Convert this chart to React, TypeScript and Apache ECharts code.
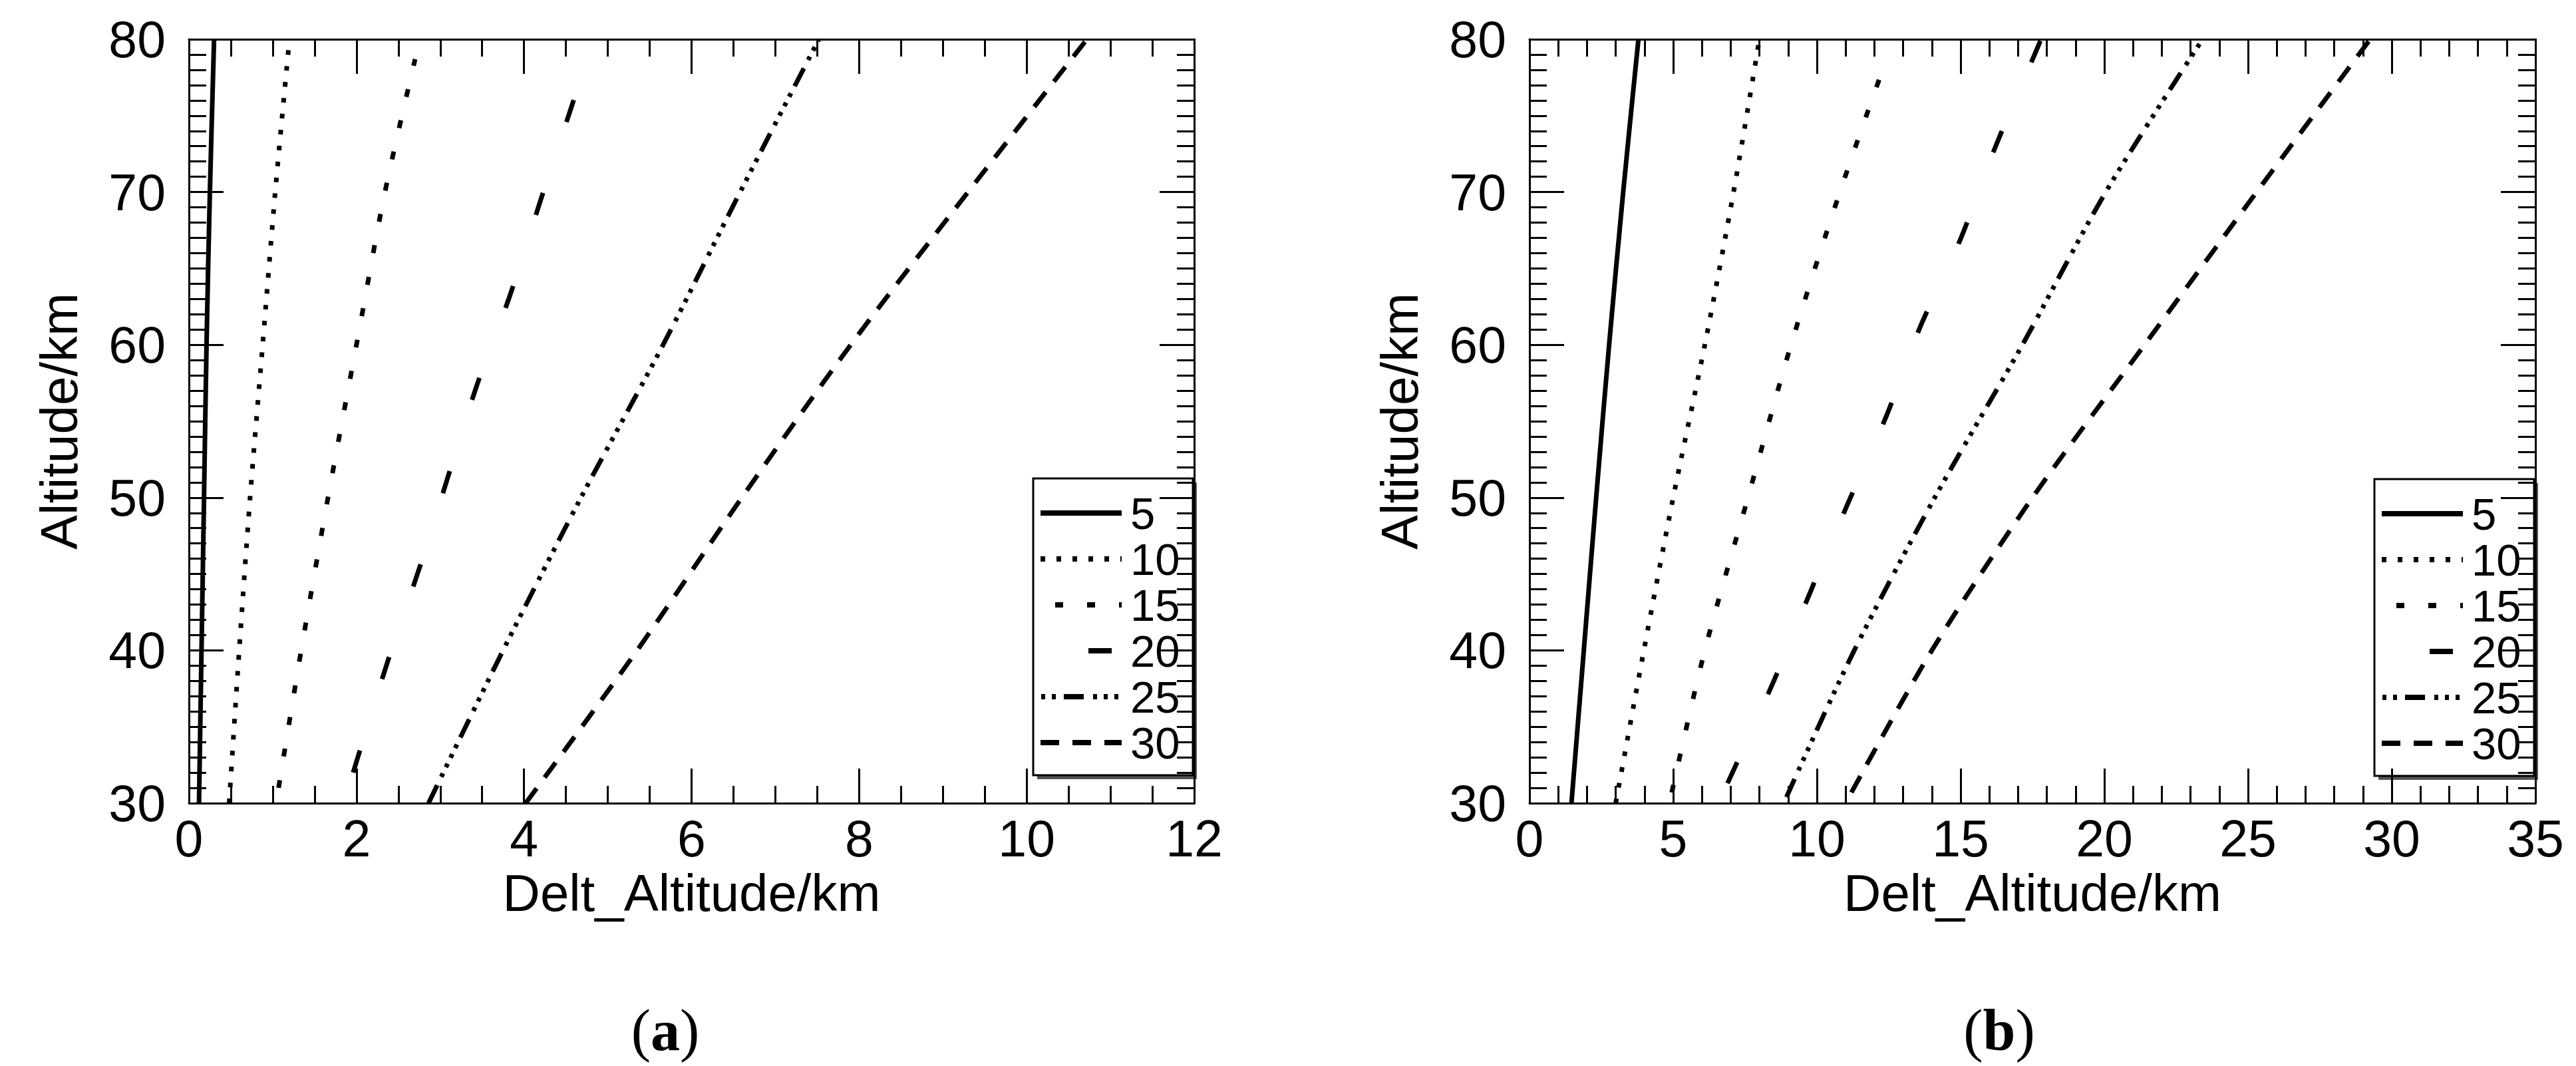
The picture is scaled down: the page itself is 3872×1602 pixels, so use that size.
import React, { useEffect, useRef } from "react";
import * as echarts from "echarts";

// ---------- Data ----------
// Panel (a): Delt_Altitude (km) vs Altitude (km)
const legendNames = ["5", "10", "15", "20", "25", "30"];

const aAlt5 = [30, 40, 50, 60, 70, 80];
const aDelta5 = [0.12, 0.15, 0.18, 0.21, 0.25, 0.3];
const aAlt10 = [30, 40, 50, 60, 70, 80];
const aDelta10 = [0.48, 0.6, 0.73, 0.88, 1.03, 1.2];
const aAlt15 = [31, 40, 50, 60, 70, 78.7];
const aDelta15 = [1.07, 1.34, 1.66, 2.0, 2.34, 2.7];
const aAlt20 = [32, 39.4, 45.7, 51.5, 57.4, 63.2, 69.5, 75.3, 77];
const aDelta20 = [1.96, 2.38, 2.77, 3.1, 3.44, 3.83, 4.2, 4.55, 4.65];
const aAlt25 = [30, 40, 50, 60, 70, 80];
const aDelta25 = [2.86, 3.75, 4.68, 5.66, 6.58, 7.52];
const aAlt30 = [30, 40, 50, 60, 70, 80];
const aDelta30 = [4.02, 5.35, 6.6, 7.9, 9.3, 10.72];

// Panel (b)
const bAlt5 = [30, 40, 50, 60, 70, 80];
const bDelta5 = [1.46, 1.89, 2.32, 2.77, 3.26, 3.79];
const bAlt10 = [30, 40, 50, 60, 70, 80];
const bDelta10 = [3.0, 3.98, 5.0, 6.1, 7.1, 8.0];
const bAlt15 = [30.7, 40, 50, 60, 70, 78.6];
const bDelta15 = [4.95, 6.1, 7.6, 9.1, 10.8, 12.4];
const bAlt20 = [31.3, 38, 44, 49.8, 55.4, 61.2, 66.8, 73, 78.8, 80];
const bDelta20 = [6.89, 8.5, 9.81, 11.12, 12.43, 13.6, 14.97, 16.22, 17.53, 17.8];
const bAlt25 = [30.4, 40, 50, 60, 70, 79.8];
const bDelta25 = [8.94, 11.3, 14.1, 17.15, 20.05, 23.35];
const bAlt30 = [30.7, 40, 50, 60, 70, 80];
const bDelta30 = [11.2, 14.0, 17.5, 21.4, 25.3, 29.25];

// Axis ranges / ticks
const altMin = 30;
const altMax = 80;
const altInterval = 10;
const aXMax = 12;
const aXInterval = 2;
const bXMax = 35;
const bXInterval = 5;

// ---------- Styles ----------
const SANS = "'Liberation Sans', Arial, sans-serif";
const SERIF = "'Liberation Serif', 'Times New Roman', serif";

// dash patterns per series (pixels)
const dashPatterns: (string | number[])[] = [
  "solid",
  [7, 17],
  [12, 36],
  [35, 112],
  [30, 14, 6, 10, 6, 10, 6, 10, 6, 12],
  [28, 20],
];
const legendDashOffsets = [0, 0, 26, 75, 75, 0];

const pair = (xs: number[], ys: number[]) => xs.map((x, i) => [x, ys[i]]);

const panelA = [
  pair(aDelta5, aAlt5),
  pair(aDelta10, aAlt10),
  pair(aDelta15, aAlt15),
  pair(aDelta20, aAlt20),
  pair(aDelta25, aAlt25),
  pair(aDelta30, aAlt30),
];
const panelB = [
  pair(bDelta5, bAlt5),
  pair(bDelta10, bAlt10),
  pair(bDelta15, bAlt15),
  pair(bDelta20, bAlt20),
  pair(bDelta25, bAlt25),
  pair(bDelta30, bAlt30),
];

const GRIDS = [
  { left: 284, top: 59, width: 1511, height: 1148 },
  { left: 2299, top: 59, width: 1512, height: 1148 },
];

const axisLineStyle = { color: "#000", width: 3 };

function xAxes(gridIndex: number, max: number, interval: number, minorSplit: number) {
  const base = {
    type: "value",
    gridIndex,
    min: 0,
    max,
    interval,
    axisLine: { show: true, onZero: false, lineStyle: axisLineStyle },
    axisTick: { show: true, inside: true, length: 52, lineStyle: axisLineStyle },
    minorTick: { show: true, splitNumber: minorSplit, length: 26, lineStyle: axisLineStyle },
    splitLine: { show: false },
    minorSplitLine: { show: false },
  };
  return [
    {
      ...base,
      position: "bottom",
      axisLabel: { show: true, fontSize: 77, fontFamily: SANS, color: "#000", margin: 14 },
      name: "Delt_Altitude/km",
      nameLocation: "middle",
      nameGap: 95,
      nameTextStyle: { fontSize: 78, fontFamily: SANS, color: "#000" },
    },
    { ...base, position: "top", axisLabel: { show: false } },
  ];
}

function yAxes(gridIndex: number) {
  const base = {
    type: "value",
    gridIndex,
    min: altMin,
    max: altMax,
    interval: altInterval,
    axisLine: { show: true, onZero: false, lineStyle: axisLineStyle },
    axisTick: { show: true, inside: true, length: 52, lineStyle: axisLineStyle },
    minorTick: { show: true, splitNumber: 10, length: 26, lineStyle: axisLineStyle },
    splitLine: { show: false },
    minorSplitLine: { show: false },
  };
  return [
    {
      ...base,
      position: "left",
      axisLabel: { show: true, fontSize: 77, fontFamily: SANS, color: "#000", margin: 35 },
      name: "Altitude/km",
      nameLocation: "middle",
      nameGap: 156,
      nameTextStyle: { fontSize: 78, fontFamily: SANS, color: "#000" },
    },
    { ...base, position: "right", axisLabel: { show: false } },
  ];
}

function seriesFor(panel: number[][][], axisIndex: number) {
  return panel.map((data, i) => ({
    type: "line",
    name: legendNames[i],
    xAxisIndex: axisIndex,
    yAxisIndex: axisIndex,
    data,
    symbol: "none",
    showSymbol: false,
    silent: true,
    smooth: 0.3,
    lineStyle: {
      color: "#000",
      width: 7,
      type: dashPatterns[i],
      cap: "butt",
      join: "miter",
    },
  }));
}

function legendGraphic(left: number, top: number) {
  const w = 240;
  const h = 446;
  const rowY0 = top + 52;
  const rowStep = 69;
  const children: any[] = [
    {
      type: "rect",
      shape: { x: left + 6, y: top + 6, width: w, height: h },
      style: { fill: "#555", stroke: "none" },
    },
    {
      type: "rect",
      shape: { x: left, y: top, width: w, height: h },
      style: { fill: "#fff", stroke: "#000", lineWidth: 3 },
    },
  ];
  legendNames.forEach((name, i) => {
    const y = rowY0 + i * rowStep;
    const pattern = dashPatterns[i];
    children.push({
      type: "line",
      shape: { x1: left + 11, y1: y, x2: left + 133, y2: y },
      style: {
        stroke: "#000",
        lineWidth: 8,
        lineCap: "butt",
        lineDash: Array.isArray(pattern) ? pattern : null,
        lineDashOffset: legendDashOffsets[i],
      },
    });
    children.push({
      type: "text",
      x: left + 146,
      y,
      style: {
        text: name,
        fontSize: 67,
        fontFamily: SANS,
        fill: "#000",
        align: "left",
        verticalAlign: "middle",
      },
    });
  });
  return { type: "group", children };
}

function caption(letter: string, cx: number, cy: number) {
  return {
    type: "text",
    x: cx,
    y: cy,
    style: {
      text: `{p|(}{b|${letter}}{p|)}`,
      align: "center",
      verticalAlign: "middle",
      rich: {
        p: { fontFamily: SERIF, fontSize: 88, fill: "#000", color: "#000" },
        b: { fontFamily: SERIF, fontSize: 88, fontWeight: "bold", fill: "#000", color: "#000" },
      },
    },
  };
}

export default function App() {
  const ref = useRef<HTMLDivElement>(null);

  useEffect(() => {
    if (!ref.current) return;
    const chart = echarts.init(ref.current, undefined, { renderer: "svg" });
    const option: any = {
      animation: false,
      backgroundColor: "#fff",
      grid: GRIDS.map((g) => ({ ...g, containLabel: false })),
      xAxis: [...xAxes(0, aXMax, aXInterval, 4), ...xAxes(1, bXMax, bXInterval, 5)],
      yAxis: [...yAxes(0), ...yAxes(1)],
      series: [
        ...seriesFor(panelA, 0).map((s) => ({ ...s, xAxisIndex: 0, yAxisIndex: 0 })),
        ...seriesFor(panelB, 2).map((s) => ({ ...s, xAxisIndex: 2, yAxisIndex: 2 })),
      ],
      graphic: [
        legendGraphic(1553, 719),
        legendGraphic(3569, 720),
        caption("a", 1000, 1548),
        caption("b", 3005, 1548),
      ],
    };
    chart.setOption(option);
    return () => chart.dispose();
  }, []);

  return (
    <div
      ref={ref}
      style={{ position: "fixed", left: 0, top: 0, width: 3872, height: 1602, background: "#fff" }}
    />
  );
}
